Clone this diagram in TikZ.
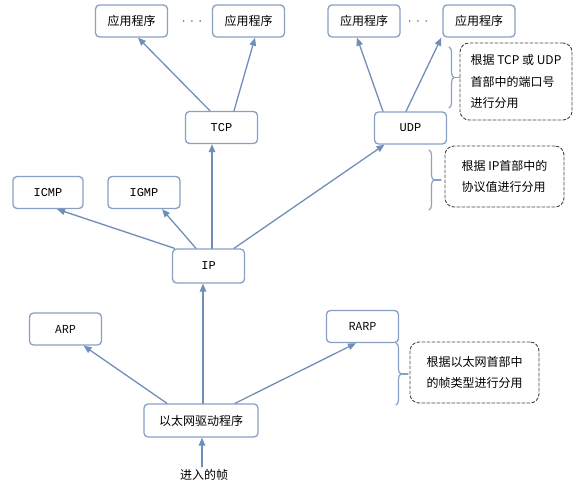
\documentclass[tikz,border=0pt]{standalone}
\usepackage{fontspec}
\setmainfont{Noto Sans CJK SC}
\newfontfamily\monofont{Liberation Mono}
\usetikzlibrary{arrows.meta,decorations.pathreplacing}
\definecolor{boxblue}{RGB}{135,160,196}
\definecolor{linkblue}{RGB}{112,143,184}
\definecolor{notegray}{RGB}{70,70,70}

\begin{document}
\begin{tikzpicture}[x=1pt, y=-1pt, >={Triangle[length=8pt,width=6.5pt]}, line cap=round, line join=round,
  layer/.style={draw=boxblue, line width=1.3pt, rounded corners=4pt, fill=white,
    minimum width=72pt, minimum height=32pt, inner sep=0pt, font=\fontsize{12}{14}\selectfont},
  proto/.style={layer, font=\monofont\fontsize{12}{14}\selectfont},
  link/.style={->, draw=linkblue, line width=1.3pt},
  note/.style={draw=notegray, line width=0.9pt, dash pattern=on 3pt off 2pt,
    rounded corners=9pt, align=left, inner sep=0pt, font=\fontsize{12}{21.5}\selectfont},
  bracket/.style={draw=boxblue, line width=1.2pt, decorate, decoration={brace, amplitude=5pt}},
  tick/.style={draw=boxblue, line width=1.2pt}]

% --- Canvas (pixels of the reference) ---
\useasboundingbox (0,0) rectangle (584,487);

% --- Applications ---
\node[layer] (app1) at (131.5,21) {应用程序};
\node[layer] (app2) at (248.5,21) {应用程序};
\node[layer] (app3) at (364,21) {应用程序};
\node[layer] (app4) at (479,21) {应用程序};
\node[font=\fontsize{12}{14}\selectfont] (dotsl) at (192,22) {${\cdot}\hspace{5pt}{\cdot}\hspace{5pt}{\cdot}$};
\node[font=\fontsize{12}{14}\selectfont] (dotsr) at (418,22) {${\cdot}\hspace{5pt}{\cdot}\hspace{5pt}{\cdot}$};

% --- Transport and network layers ---
\node[proto] (tcp) at (221.5,127.5) {TCP};
\node[proto] (udp) at (410.5,128) {UDP};
\node[proto, minimum width=70pt] (icmp) at (48,192.5) {ICMP};
\node[proto] (igmp) at (144,192.5) {IGMP};
\node[proto, minimum height=34pt] (ip) at (208.5,266) {IP};

% --- Link layer ---
\node[layer, font=\fontsize{11}{13}\selectfont] (arp) at (65.5,329) {ARP};
\node[layer, font=\fontsize{11}{13}\selectfont] (rarp) at (362.5,326.5) {RARP};
\node[layer, minimum width=114pt, minimum height=33pt] (eth) at (201,420.5) {以太网驱动程序};
\node[font=\fontsize{12}{14}\selectfont, inner sep=2pt] (frame) at (204,474.5) {进入的帧};

% --- Demultiplexing arrows ---
\draw[link] ([xshift=-2pt]frame.north) -- ([xshift=1pt]eth.south);
\draw[link] ([xshift=-34pt]eth.north) -- ([xshift=18pt]arp.south);
\draw[link] ([xshift=2pt]eth.north) -- ([xshift=-5.5pt]ip.south);
\draw[link] ([xshift=34pt]eth.north) -- ([xshift=-6.5pt]rarp.south);

\draw[link] ([xshift=-34pt]ip.north) -- ([xshift=9pt]icmp.south);
\draw[link] ([xshift=-12.5pt]ip.north) -- ([xshift=18pt]igmp.south);
\draw[link] ([xshift=3.5pt]ip.north) -- ([xshift=-9.5pt]tcp.south);
\draw[link] ([xshift=25.5pt]ip.north) -- ([xshift=-26pt]udp.south);

\draw[link] ([xshift=-11.5pt]tcp.north) -- ([xshift=6.5pt]app1.south);
\draw[link] ([xshift=12.5pt]tcp.north) -- ([xshift=6.5pt]app2.south);
\draw[link] ([xshift=-27.5pt]udp.north) -- ([xshift=-7pt]app3.south);
\draw[link] ([xshift=-4.5pt]udp.north) -- ([xshift=-1pt]app4.south west);

% --- Notes ---
\node[note, minimum width=112pt, minimum height=77pt] (noteport) at (516,81.5)
  {根据 TCP 或 UDP\\首部中的端口号\\进行分用};
\node[note, minimum width=119pt, minimum height=61pt] (noteproto) at (504.5,176.5)
  {根据 IP首部中的\\协议值进行分用};
\node[note, minimum width=129pt, minimum height=61pt] (notetype) at (474.5,372.5)
  {根据以太网首部中\\的帧类型进行分用};

% --- Braces ---
\draw[bracket] (449,47) -- (449,108);
\draw[tick] (454,77.5) -- (460,77.5);
\draw[bracket] (429,150) -- (429,210);
\draw[tick] (434,180) -- (441,180);
\draw[bracket] (396,343) -- (396,405);
\draw[tick] (401,374) -- (408,374);

\end{tikzpicture}
\end{document}
